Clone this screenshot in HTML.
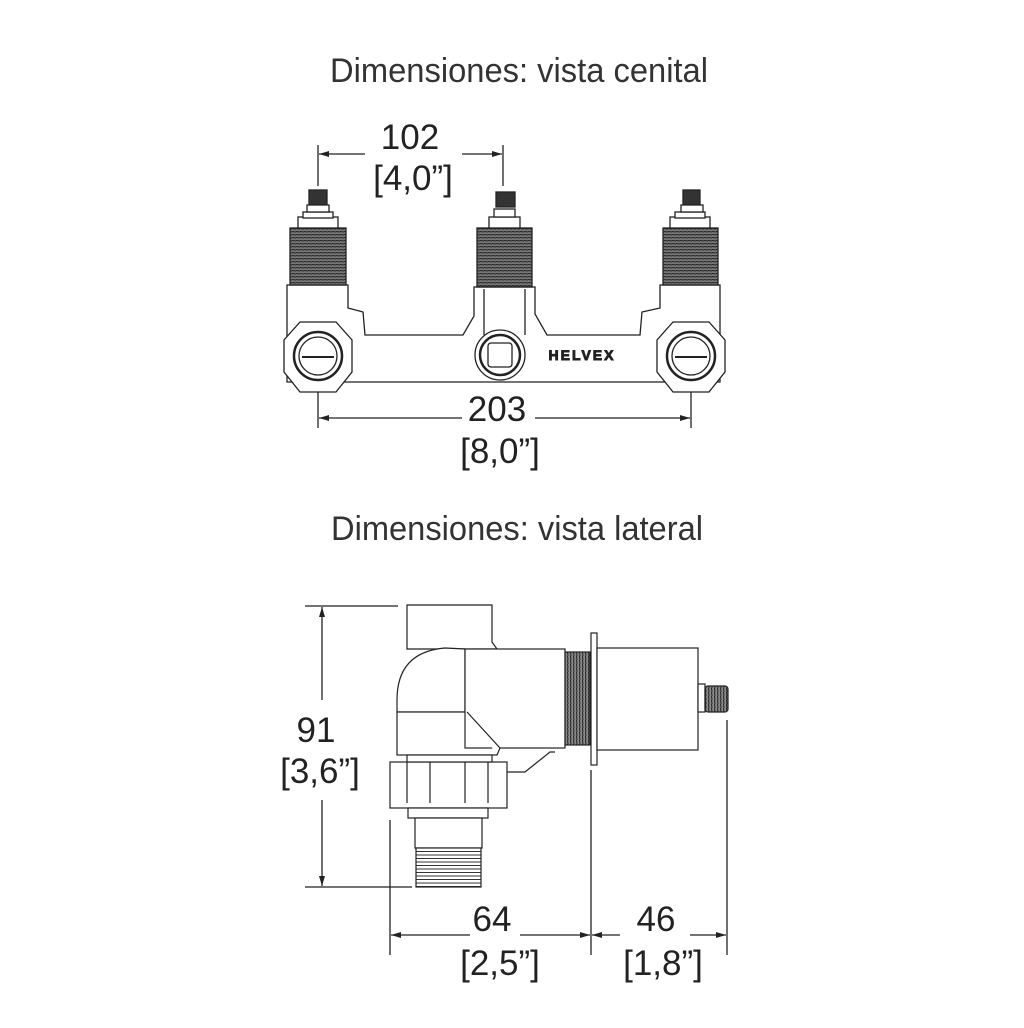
<!DOCTYPE html>
<html><head><meta charset="utf-8"><style>
html,body{margin:0;padding:0;background:#fff}
svg{display:block}
text{font-family:"Liberation Sans",sans-serif;fill:#222}
</style></head><body>
<svg width="1024" height="1028" viewBox="0 0 1024 1028" xmlns="http://www.w3.org/2000/svg">
<defs>
<pattern id="thr" width="4" height="3" patternUnits="userSpaceOnUse"><rect width="4" height="3" fill="#777"/><line x1="0" y1="0.5" x2="4" y2="1" stroke="#222" stroke-width="1"/></pattern>
<pattern id="vthr" width="3" height="4" patternUnits="userSpaceOnUse"><rect width="3" height="4" fill="#888"/><line x1="0.5" y1="0" x2="1" y2="4" stroke="#222" stroke-width="1"/></pattern>
<pattern id="hthr" width="4" height="3.5" patternUnits="userSpaceOnUse"><rect width="4" height="3.5" fill="#fff"/><line x1="0" y1="1" x2="4" y2="1" stroke="#333" stroke-width="1"/></pattern>
<marker id="ar" markerWidth="10" markerHeight="8" refX="10" refY="4" orient="auto" markerUnits="userSpaceOnUse"><path d="M0,1 L10,4 L0,7 Z" fill="#222"/></marker>
</defs>

<text x="519" y="82" font-size="34" text-anchor="middle" textLength="378" lengthAdjust="spacingAndGlyphs" style="fill:#333">Dimensiones: vista cenital</text>
<text x="517" y="540" font-size="34" text-anchor="middle" textLength="372" lengthAdjust="spacingAndGlyphs" style="fill:#333">Dimensiones: vista lateral</text>

<g stroke="#222" stroke-width="1.3" fill="none">
<line x1="318" y1="145" x2="318" y2="186"/><line x1="503" y1="145" x2="503" y2="186"/>
<line x1="365" y1="154" x2="319" y2="154" marker-end="url(#ar)"/>
<line x1="462" y1="154" x2="502" y2="154" marker-end="url(#ar)"/>
<line x1="318" y1="390" x2="318" y2="428"/><line x1="691" y1="390" x2="691" y2="428"/>
<line x1="462" y1="418" x2="319" y2="418" marker-end="url(#ar)"/>
<line x1="535" y1="418" x2="690" y2="418" marker-end="url(#ar)"/>
</g>
<text x="410" y="149" font-size="35" text-anchor="middle">102</text>
<text x="413" y="190" font-size="35" text-anchor="middle">[4,0”]</text>
<text x="497" y="421" font-size="35" text-anchor="middle">203</text>
<text x="500" y="463" font-size="35" text-anchor="middle">[8,0”]</text>

<g stroke="#222" stroke-width="1.3" fill="#fff">
<path d="M287,285 L348,285 L348,308 L363,312 L365,335 L463,335 L474,316 L474,287 L535,287 L535,314 L547,335 L640,335 L642,312 L660,308 L660,285 L720,285 L720,382 L287,382 Z"/>
<line x1="484" y1="289" x2="484" y2="335"/><line x1="525" y1="289" x2="525" y2="335"/>
<g>
<rect x="290" y="228" width="56" height="57" fill="url(#thr)"/>
<rect x="298" y="217" width="40" height="11"/><rect x="303" y="212" width="30" height="6"/>
<rect x="309" y="190" width="18" height="17" fill="#333"/><rect x="307" y="205" width="22" height="7"/>
<rect x="477" y="228" width="55" height="59" fill="url(#thr)"/>
<rect x="489" y="217" width="31" height="11"/><rect x="494" y="209" width="21" height="8"/>
<rect x="496" y="192" width="19" height="15" fill="#333"/>
<rect x="663" y="228" width="55" height="57" fill="url(#thr)"/>
<rect x="670" y="217" width="40" height="11"/><rect x="675" y="212" width="30" height="6"/>
<rect x="683" y="190" width="17" height="17" fill="#333"/><rect x="681" y="205" width="22" height="7"/>
</g>
<polygon points="300,322 336,322 352,340 352,372 336,392 300,392 284,372 284,340"/>
<circle cx="318" cy="356" r="24" stroke-width="2.5"/><circle cx="318" cy="356" r="19"/>
<line x1="302" y1="357" x2="334" y2="357" stroke-width="2"/>
<polygon points="673,322 709,322 725,340 725,372 709,392 673,392 657,372 657,340"/>
<circle cx="691" cy="356" r="24" stroke-width="2.5"/><circle cx="691" cy="356" r="19"/>
<line x1="675" y1="357" x2="707" y2="357" stroke-width="2"/>
<circle cx="500" cy="355" r="25"/><circle cx="500" cy="355" r="20" stroke-width="2.5"/>
<rect x="488" y="343" width="24" height="24" rx="3"/>
</g>
<text x="582" y="360" font-size="14" font-weight="bold" text-anchor="middle" fill="#fff" stroke="#222" stroke-width="0.9" letter-spacing="2">HELVEX</text>

<g stroke="#222" stroke-width="1.2" fill="#fff">
<path d="M407,605 L492,605 L492,642 L497,649 L465,649 L407,649 Z"/>
<path d="M465,649 L465,712 L397,712 L397,700 Q397,652 445,648 Z"/>
<rect x="397" y="712" width="100" height="43"/>
<rect x="465" y="649" width="100" height="99"/>
<path d="M467,712 L500,748 L497,755"/>
<path d="M507,772 L525,772 L550,752 L555,752"/>
<rect x="565" y="652" width="25" height="93" fill="url(#vthr)"/>
<rect x="591" y="633" width="6" height="132"/>
<rect x="597" y="648" width="101" height="102"/>
<rect x="698" y="684" width="7" height="28"/>
<rect x="705" y="686" width="23" height="26" rx="3" fill="url(#vthr)"/>
<rect x="390" y="762" width="117" height="46"/>
<line x1="407" y1="762" x2="407" y2="803"/><line x1="430" y1="762" x2="430" y2="803"/>
<line x1="465" y1="762" x2="465" y2="803"/><line x1="488" y1="762" x2="488" y2="803"/>
<rect x="407" y="755" width="85" height="7"/>
<rect x="408" y="808" width="80" height="10"/>
<rect x="415" y="818" width="67" height="30"/>
<rect x="416" y="848" width="65" height="39" fill="url(#hthr)"/>
</g>
<g stroke="#222" stroke-width="1.3" fill="none">
<line x1="305" y1="606" x2="398" y2="606"/><line x1="305" y1="887" x2="412" y2="887"/>
<line x1="322" y1="700" x2="322" y2="607" marker-end="url(#ar)"/>
<line x1="322" y1="800" x2="322" y2="886" marker-end="url(#ar)"/>
<line x1="390" y1="820" x2="390" y2="955"/><line x1="591" y1="770" x2="591" y2="955"/><line x1="727" y1="720" x2="727" y2="955"/>
<line x1="470" y1="935" x2="391" y2="935" marker-end="url(#ar)"/>
<line x1="520" y1="935" x2="590" y2="935" marker-end="url(#ar)"/>
<line x1="620" y1="935" x2="592" y2="935" marker-end="url(#ar)"/>
<line x1="690" y1="935" x2="726" y2="935" marker-end="url(#ar)"/>
</g>
<text x="316" y="742" font-size="35" text-anchor="middle">91</text>
<text x="320" y="783" font-size="35" text-anchor="middle">[3,6”]</text>
<text x="492" y="931" font-size="35" text-anchor="middle">64</text>
<text x="500" y="975" font-size="35" text-anchor="middle">[2,5”]</text>
<text x="656" y="931" font-size="35" text-anchor="middle">46</text>
<text x="663" y="975" font-size="35" text-anchor="middle">[1,8”]</text>
</svg>
</body></html>
